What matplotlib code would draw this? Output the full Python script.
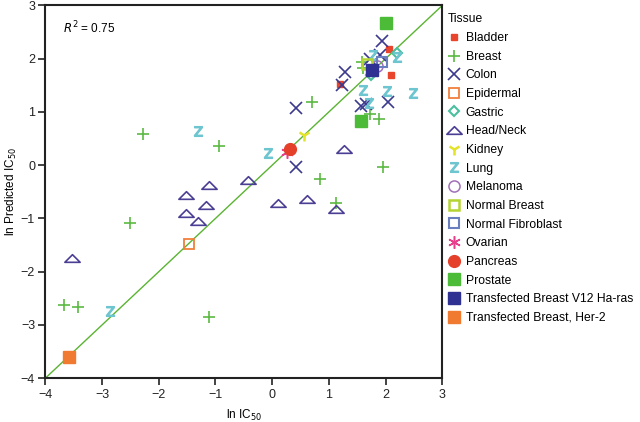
import matplotlib.pyplot as plt
from matplotlib.path import Path

plt.rcParams['font.family'] = ['Liberation Sans', 'DejaVu Sans']

# ======================
# data (ln IC50, ln predicted IC50) per tissue
# ======================
bladder_x = [2.06, 2.10, 1.20]
bladder_y = [2.19, 1.70, 1.52]
breast_x = [1.58, 1.61, 0.70, 1.72, 1.88, 1.95, 0.85, 1.12, -2.28, -0.94, -2.51, -3.67, -3.42, -1.11]
breast_y = [1.93, 1.82, 1.19, 0.97, 0.86, -0.03, -0.26, -0.71, 0.58, 0.36, -1.08, -2.63, -2.67, -2.85]
colon_x = [1.94, 1.91, 1.73, 1.29, 1.23, 0.42, 0.42, 1.57, 1.66, 2.04]
colon_y = [2.33, 2.07, 2.00, 1.75, 1.50, 1.07, -0.04, 1.11, 1.15, 1.19]
epidermal_x = [-1.46]
epidermal_y = [-1.48]
gastric_x = [2.20, 1.74]
gastric_y = [2.10, 1.69]
headneck_x = [1.27, -0.42, 0.10, 0.62, 1.12, -1.11, -1.52, -1.17, -1.52, -1.31, -3.53]
headneck_y = [0.31, -0.27, -0.71, -0.64, -0.83, -0.38, -0.56, -0.74, -0.89, -1.05, -1.74]
kidney_x = [0.57]
kidney_y = [0.56]
lung_x = [2.21, 1.78, 1.60, 2.03, 2.49, 1.70, -0.08, -1.30, -2.86]
lung_y = [2.04, 2.07, 1.41, 1.40, 1.36, 1.16, 0.22, 0.64, -2.73]
melanoma_x = [1.85]
melanoma_y = [1.86]
normal_breast_x = [1.68]
normal_breast_y = [1.90]
fibroblast_x = [1.94]
fibroblast_y = [1.94]
ovarian_x = [0.26]
ovarian_y = [0.25]
pancreas_x = [0.32]
pancreas_y = [0.31]
prostate_x = [2.00, 1.57]
prostate_y = [2.67, 0.83]
v12_x = [1.76]
v12_y = [1.79]
her2_x = [-3.59]
her2_y = [-3.61]

r2_text = '0.75'

# flat triangle for head/neck
tri = Path([(-1, -0.5), (1, -0.5), (0, 0.5), (-1, -0.5)],
           [Path.MOVETO, Path.LINETO, Path.LINETO, Path.CLOSEPOLY])

fig = plt.figure(figsize=(6.4, 4.22), dpi=100)
ax = fig.add_axes([0.071, 0.104, 0.62, 0.883])

ax.plot([-4, 3], [-4, 3], color='#5ab432', lw=1.0, zorder=1)

series = [
    ('Bladder', bladder_x, bladder_y, dict(marker='s', ms=4.5, color='#e8452c', ls='')),
    ('Breast', breast_x, breast_y, dict(marker='+', ms=9, mew=1.2, color='#5cb943', ls='')),
    ('Colon', colon_x, colon_y, dict(marker='x', ms=8, mew=1.2, color='#3b3a8e', ls='')),
    ('Epidermal', epidermal_x, epidermal_y, dict(marker='s', ms=7, mfc='none', mew=1.3, color='#f07f3c', ls='')),
    ('Gastric', gastric_x, gastric_y, dict(marker='D', ms=5.5, mfc='none', mew=1.5, color='#4bbf9f', ls='')),
    ('Head/Neck', headneck_x, headneck_y, dict(marker=tri, ms=11, mfc='none', mew=1.2, color='#4a3f94', ls='')),
    ('Kidney', kidney_x, kidney_y, dict(marker='1', ms=9, mew=1.8, color='#e3e32a', ls='')),
    ('Lung', lung_x, lung_y, dict(marker=r'$\mathsf{Z}$', ms=7, color='#6cc5cf', ls='')),
    ('Melanoma', melanoma_x, melanoma_y, dict(marker='o', ms=8, mfc='none', mew=1.1, color='#a070b8', ls='')),
    ('Normal Breast', normal_breast_x, normal_breast_y, dict(marker='s', ms=7, mfc='none', mew=1.8, color='#b5d433', ls='')),
    ('Normal Fibroblast', fibroblast_x, fibroblast_y, dict(marker='s', ms=7, mfc='none', mew=1.5, color='#6a7fc0', ls='')),
    ('Ovarian', ovarian_x, ovarian_y, dict(marker=(6, 2, 0), ms=9, mew=1.1, color='#e8408c', ls='')),
    ('Pancreas', pancreas_x, pancreas_y, dict(marker='o', ms=8.5, color='#e5402a', ls='')),
    ('Prostate', prostate_x, prostate_y, dict(marker='s', ms=8.5, color='#4cbb38', ls='')),
    ('Transfected Breast V12 Ha-ras', v12_x, v12_y, dict(marker='s', ms=8.5, color='#2e3192', ls='')),
    ('Transfected Breast, Her-2', her2_x, her2_y, dict(marker='s', ms=8.5, color='#f07a30', ls='')),
]
for name, xs, ys, kw in series:
    ax.plot(xs, ys, label=name, zorder=3, **kw)

ax.set_xlim(-4, 3)
ax.set_ylim(-4, 3)
ax.set_xticks(range(-4, 4))
ax.set_yticks(range(-4, 4))
ax.set_xticklabels([str(v).replace('-', '\u2212') for v in range(-4, 4)])
ax.set_yticklabels([str(v).replace('-', '\u2212') for v in range(-4, 4)])
ax.tick_params(direction='out', length=5, width=1.2, labelsize=9, colors='#222222', pad=2.5)
for s in ax.spines.values():
    s.set_linewidth(1.5)
    s.set_color('#222222')

ax.set_xlabel('ln IC$_{50}$', fontsize=8.5, labelpad=5)
ax.set_ylabel('ln Predicted IC$_{50}$', fontsize=8.5, labelpad=1)
ax.text(0.044, 0.94, '$R^2$ = ' + r2_text, transform=ax.transAxes, fontsize=8.5,
        va='center', ha='left')

leg = ax.legend(loc='upper left', bbox_to_anchor=(0.995, 0.998), frameon=False,
                title='Tissue', fontsize=8.7, title_fontsize=8.7, handlelength=1.0,
                handletextpad=0.5, labelspacing=0.55, borderaxespad=0.2)
leg._legend_box.align = 'left'

fig.savefig('out.png', dpi=100)
